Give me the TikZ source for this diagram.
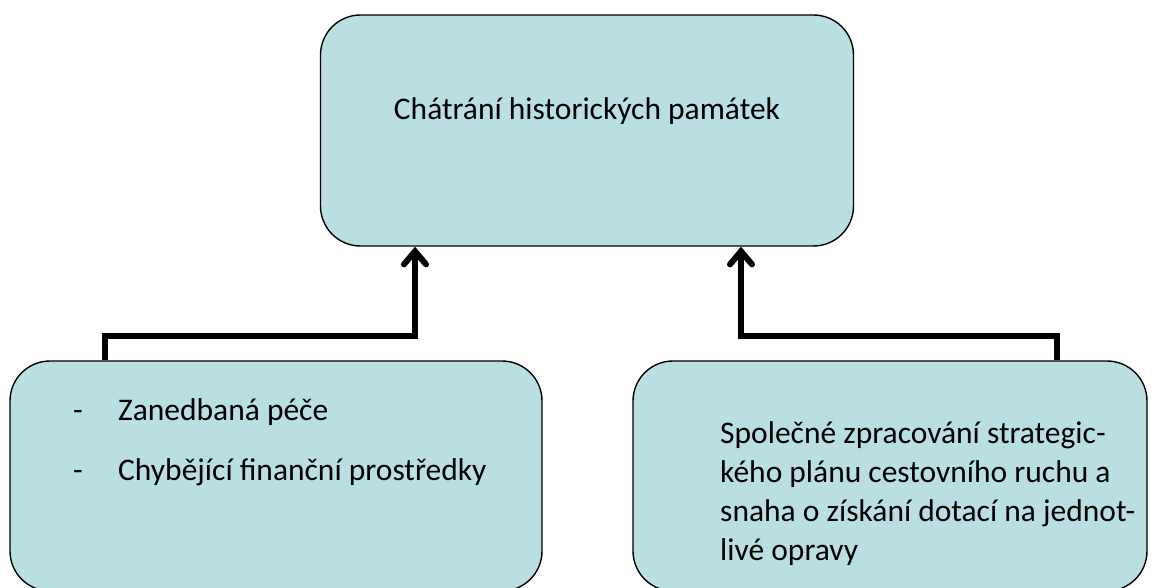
\documentclass[tikz,border=0pt]{standalone}
\usepackage{fontspec}
\setmainfont{Carlito}
\usetikzlibrary{arrows.meta}
\definecolor{boxfill}{HTML}{BADFE3}
\tikzset{
  box/.style={draw=black, line width=1.4pt, fill=boxfill, rounded corners=40pt, inner sep=0pt},
  txt/.style={font=\fontsize{31.5}{38.7}\selectfont, inner sep=0pt, text=black},
  conn/.style={line width=6pt, -{Straight Barb[length=13pt, width=22pt, line cap=round]}, line join=miter}
}
\begin{document}
\begin{tikzpicture}[x=1pt, y=-1pt]
\useasboundingbox (0,0) rectangle (1154,588);
\node[box, minimum width=533pt, minimum height=231pt] (top) at (587,130.5) {};
\node[box, minimum width=532pt, minimum height=230pt] (left) at (276,476) {};
\node[box, minimum width=514pt, minimum height=230pt] (right) at (890,476) {};
\node[txt, anchor=base] (ttop) at (587,120) {Chátrání historických památek};
\node[txt, anchor=base west] (d1) at (73,420) {-};
\node[txt, anchor=base west] (l1) at (118,420) {Zanedbaná péče};
\node[txt, anchor=base west] (d2) at (73,480) {-};
\node[txt, anchor=base west] (l2) at (118,480) {Chybějící finanční prostředky};
\node[txt, anchor=base west, align=left] (r1) at (720,560) {Společné zpracování strategic-\\kého plánu cestovního ruchu a\\snaha o získání dotací na jednot-\\livé opravy};
\coordinate (lx) at (104.5,0);
\coordinate (lax) at (415,0);
\coordinate (rx) at (1057,0);
\coordinate (rax) at (741,0);
\draw[conn] (left.north -| lx) -- ++(0,-24) -| (top.south -| lax);
\draw[conn] (right.north -| rx) -- ++(0,-24) -| (top.south -| rax);
\end{tikzpicture}
\end{document}
